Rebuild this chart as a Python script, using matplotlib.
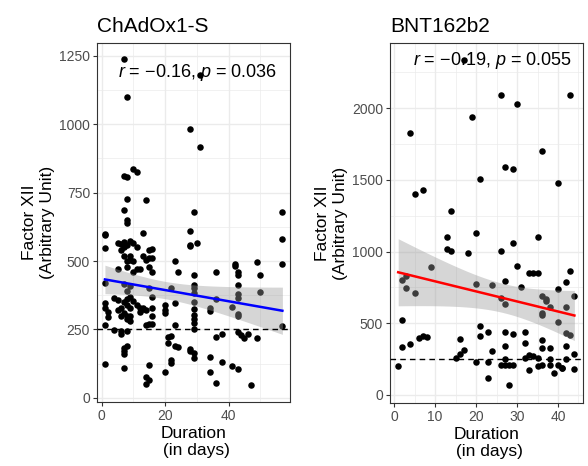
import numpy as np
import matplotlib
matplotlib.use("Agg")
import matplotlib.pyplot as plt
from matplotlib.ticker import MultipleLocator

plt.rcParams['font.family'] = ['Liberation Sans', 'DejaVu Sans']
plt.rcParams['mathtext.fontset'] = 'custom'
plt.rcParams['mathtext.it'] = 'Liberation Sans:italic'
plt.rcParams['mathtext.rm'] = 'Liberation Sans'

# ChAdOx1-S panel data (duration in days, Factor XII)
chad_x = [1, 1, 1, 1, 1, 1, 2, 2, 1, 1,
          4, 4, 5,
          5, 5, 5, 6, 6, 6, 6, 6, 6,
          7, 7, 7, 7, 7, 7, 7, 7, 7, 7, 7, 7, 7,
          8, 8, 8, 8, 8, 8, 8, 8, 8, 8, 8, 8, 8, 8, 8,
          9, 9, 9, 9, 9, 9, 9, 9,
          10, 10, 10, 10, 10,
          11, 11, 11, 11,
          12, 12, 12,
          13, 13, 13, 13,
          14, 14, 14, 14, 14, 14,
          15, 15, 15, 15, 15, 15, 15,
          16, 16, 16, 16, 16, 16, 16,
          20, 20, 20, 20,
          21, 21,
          22, 22, 22, 22,
          23, 23, 23, 23,
          24, 24,
          28, 28, 28, 28, 28, 28,
          29, 29, 29, 29, 29, 29, 29, 29, 29, 29, 29, 29, 29,
          30,
          31, 31,
          34, 34, 34, 34,
          36, 36, 36, 36,
          38, 38,
          41, 41,
          42, 42, 43,
          43, 43, 43, 43, 43, 43, 43, 43,
          44, 45, 46,
          47,
          49, 49, 50, 50,
          57, 57, 57, 57]
chad_y = [599, 595, 547, 419, 347, 329, 315, 297, 267, 124,
          364, 248, 358,
          565, 470, 320, 245, 235, 562, 540, 330, 300,
          1237, 811, 687, 570, 550, 520, 416, 350, 310, 183, 170, 160, 110,
          1101, 808, 727, 650, 641, 560, 500, 480, 390, 360, 340, 300, 290, 245, 190,
          575, 520, 505, 410, 370, 330, 300, 280,
          835, 565, 500, 460, 355,
          827, 550, 470, 340,
          470, 330, 314,
          604, 520, 329, 325,
          722, 505, 320, 265, 78, 51,
          540, 510, 480, 400, 270, 121, 66,
          545, 512, 460, 370, 330, 300, 270,
          340, 320, 310, 96,
          223, 200,
          400, 225, 139, 128,
          500, 347, 268, 190,
          460, 186,
          984, 611, 560, 555, 180, 170,
          678, 412, 400, 383, 350, 326, 302, 290, 272, 250, 165, 146, 450,
          565,
          1180, 918,
          328, 318, 149, 96,
          461, 361, 224, 56,
          234, 133,
          331, 117,
          490, 482, 106,
          461, 448, 413, 378, 366, 305, 300, 242,
          230, 219, 235,
          47,
          496, 219, 449, 388,
          678, 581, 490, 263]

# BNT162b2 panel data
bnt_x = [17, 26, 30, 43, 19, 4, 36, 27, 29, 21, 40, 5, 7, 14, 13, 20, 35,
         13, 14, 18, 26, 29, 9, 30, 33, 34, 35, 43, 2, 3, 20, 24, 27, 31, 42,
         3, 5, 40, 44, 26, 27, 36, 37, 37, 38, 36, 36, 40, 42, 42, 43, 2, 21,
         21, 23, 27, 29, 32, 32, 2, 4, 6, 7, 8, 16, 17, 15, 16, 20, 23, 23, 24,
         27, 26, 27, 28, 29, 27, 28, 32, 33, 34, 35, 33, 35, 36, 36, 36, 38,
         38, 38, 39, 40, 41, 41, 42, 42, 44, 44, 1]
bnt_y = [2336, 2092, 2031, 2092, 1941, 1829, 1702, 1588, 1574, 1504, 1476,
         1400, 1430, 1281, 1100, 1128, 1100, 1018, 1006, 990, 1006, 1058, 890,
         900, 853, 853, 853, 865, 802, 832, 774, 767, 797, 755, 790, 748, 714,
         739, 690, 675, 635, 690, 670, 655, 617, 575, 560, 511, 612, 434, 418,
         523, 481, 410, 441, 441, 423, 437, 365, 333, 355, 400, 410, 405, 390,
         315, 255, 285, 232, 232, 120, 305, 340, 210, 210, 210, 210, 250, 70,
         260, 280, 270, 260, 175, 200, 210, 330, 385, 325, 210, 250, 150, 210,
         190, 190, 340, 250, 285, 180, 205]

titles = ["ChAdOx1-S", "BNT162b2"]
stat_labels = [r"$r$ = −0.16, $p$ = 0.036", r"$r$ = −0.19, $p$ = 0.055"]
line_colors = ["blue", "red"]
cutoff = 250


def draw_panel(ax, x, y, title, label, color, xlim, ylim, xstep, ystep, text_xy):
    x = np.array(x, dtype=float)
    y = np.array(y, dtype=float)
    ax.scatter(x, y, s=22, c='black', linewidths=0, zorder=2)

    # linear fit with 95% confidence band
    slope, icpt = np.polyfit(x, y, 1)
    n = len(x)
    xs = np.linspace(x.min(), x.max(), 80)
    fit = icpt + slope * xs
    resid = y - (icpt + slope * x)
    s = np.sqrt(np.sum(resid ** 2) / (n - 2))
    se = s * np.sqrt(1 / n + (xs - x.mean()) ** 2 / np.sum((x - x.mean()) ** 2))
    ax.fill_between(xs, fit - 1.98 * se, fit + 1.98 * se, color='#999999',
                    alpha=0.4, linewidth=0, zorder=3)
    ax.plot(xs, fit, color=color, lw=1.8, zorder=4)
    ax.axhline(cutoff, color='black', ls=(0, (4, 3)), lw=1.0, zorder=5)

    ax.text(text_xy[0], text_xy[1], label, fontsize=13, va='center', zorder=6)

    ax.set_xlim(*xlim)
    ax.set_ylim(*ylim)
    ax.xaxis.set_major_locator(MultipleLocator(xstep))
    ax.xaxis.set_minor_locator(MultipleLocator(xstep / 2))
    ax.yaxis.set_major_locator(MultipleLocator(ystep))
    ax.yaxis.set_minor_locator(MultipleLocator(ystep / 2))
    ax.grid(which='major', color='#EBEBEB', lw=1.0, zorder=0)
    ax.grid(which='minor', color='#EBEBEB', lw=0.5, zorder=0)
    ax.set_axisbelow(True)
    for sp in ax.spines.values():
        sp.set_color('#333333')
        sp.set_linewidth(0.8)
    ax.tick_params(which='major', length=3, color='#333333', labelcolor='#4D4D4D',
                   labelsize=10, pad=2)
    ax.tick_params(which='minor', length=0)
    ax.set_title(title, loc='left', fontsize=15, pad=8)
    ax.set_xlabel("Duration\n (in days)", fontsize=12.5, labelpad=2)
    ax.set_ylabel("Factor XII\n(Arbitrary Unit)", fontsize=12.5, labelpad=3)


fig = plt.figure(figsize=(5.88, 4.66), dpi=100)
ax1 = fig.add_axes([97 / 588, 1 - 402 / 466, 193 / 588, 359 / 466])
ax2 = fig.add_axes([390 / 588, 1 - 403 / 466, 193 / 588, 360 / 466])

draw_panel(ax1, chad_x, chad_y, titles[0], stat_labels[0], line_colors[0],
           (-1.5, 59.4), (-15, 1297), 20, 250, (5, 1190))
draw_panel(ax2, bnt_x, bnt_y, titles[1], stat_labels[1], line_colors[1],
           (-1, 46.1), (-56, 2455), 10, 500, (4.5, 2330))

fig.savefig("out.png", dpi=100)
